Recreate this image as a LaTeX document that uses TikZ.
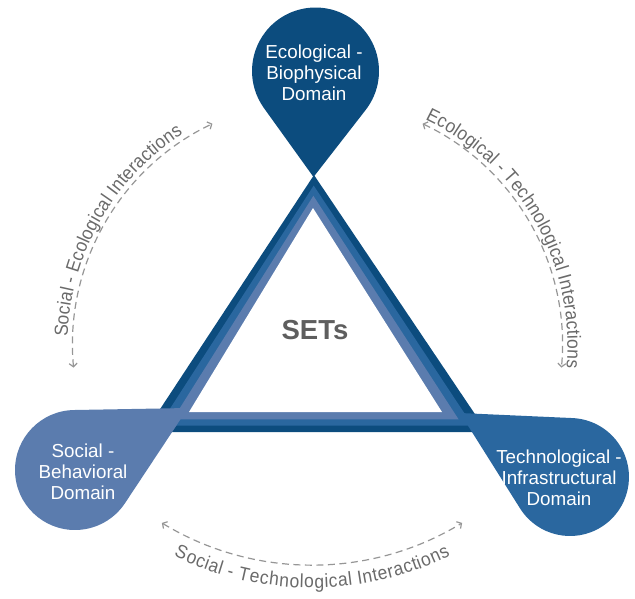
\documentclass[tikz,border=0pt]{standalone}
\usepackage{fontspec}
\setmainfont{Liberation Sans}
\newfontfamily\arcfamily[FakeStretch=0.92]{Liberation Sans}
\usetikzlibrary{calc,arrows.meta,decorations.text}

\definecolor{bandDark}{HTML}{0C4C7E}
\definecolor{bandMid}{HTML}{2A679F}
\definecolor{bandLight}{HTML}{5B7CAE}
\definecolor{arcGrey}{HTML}{969696}
\definecolor{labelGrey}{HTML}{6A6A6A}
\definecolor{hubGrey}{HTML}{5E5E5E}

% Map-pin shape: circle of radius #4 centred at (#2,#3), narrowing to a tip at (#5,#6)
\newcommand\pinshape[6]{%
  \pgfmathsetmacro\pinang{atan2((#6)-(#3),(#5)-(#2))}%
  \pgfmathsetmacro\pinhalf{acos((#4)/veclen((#5)-(#2),(#6)-(#3)))}%
  \pgfmathsetmacro\pinstart{\pinang+\pinhalf}%
  \pgfmathsetmacro\pinsweep{360-2*\pinhalf}%
  \fill[#1] (#5,#6) -- ($(#2,#3)+(\pinstart:#4)$)
    arc[start angle=\pinstart, delta angle=\pinsweep, radius=#4] -- cycle;
}
\newcommand\arclabelfont{\arcfamily\fontsize{19}{21}\selectfont}

\begin{document}
\begin{tikzpicture}[x=1pt,y=1pt,
  domtext/.style={text=white, align=center, inner sep=0pt,
    font=\fontsize{18.8}{21}\selectfont},
  hubtext/.style={text=hubGrey, inner sep=0pt,
    font=\fontsize{27.5}{30}\selectfont\bfseries},
  linkarc/.style={draw=arcGrey, line width=1.2pt, dash pattern=on 7pt off 4.5pt,
    {Straight Barb[length=3.5pt,width=8pt]}-{Straight Barb[length=3.5pt,width=8pt]}},
  arclabel/.style={decorate, decoration={text along path, text align=center,
    text color=labelGrey, raise=#1}},
]
\useasboundingbox (0,0) rectangle (635,-598);

% ---- triangle: three nested bands ----
\coordinate (Oa) at (314,-175);
\coordinate (Ol) at (145,-432);
\coordinate (Or) at (487,-432);
\coordinate (Ia) at (313,-208);
\coordinate (Il) at (189,-412);
\coordinate (Ir) at (442,-412);
\fill[bandDark] (Oa) -- (Ol) -- (Or) -- cycle;
\fill[bandMid] ($(Oa)!0.32!(Ia)$) -- ($(Ol)!0.32!(Il)$) -- ($(Or)!0.32!(Ir)$) -- cycle;
\fill[bandLight] ($(Oa)!0.63!(Ia)$) -- ($(Ol)!0.63!(Il)$) -- ($(Or)!0.63!(Ir)$) -- cycle;
\fill[white] (Ia) -- (Il) -- (Ir) -- cycle;

% ---- domain pins ----
\pinshape{bandDark}{315.5}{-71}{63.5}{313.5}{-177}
\pinshape{bandLight}{75}{-470}{60}{188}{-408}
\pinshape{bandMid}{570}{-477}{59}{460}{-413}

\node[domtext] (eco)  at (314,-73)    {Ecological -\\Biophysical\\Domain};
\node[domtext] (soc)  at (83,-472)    {Social -\\Behavioral\\Domain};
\node[domtext] (tech) at (559,-477.5) {Technological -\\Infrastructural\\Domain};
\node[hubtext] (hub)  at (315,-330)   {SETs};

% ---- interaction arcs ----
\coordinate (ring) at (317.5,-345);
\coordinate (low)  at (312,-276);
\coordinate (se-a) at ($(ring)+(185.3:245)$);
\coordinate (et-a) at ($(ring)+(64.6:245)$);
\coordinate (st-a) at ($(low)+(238.7:289)$);

\draw[linkarc] (se-a) arc[start angle=185.3, end angle=115.4, radius=245];
\draw[linkarc] (et-a) arc[start angle=64.6, end angle=-5.3, radius=245];
\draw[linkarc] (st-a) arc[start angle=238.7, end angle=301.3, radius=289];

\path[arclabel=5pt, decoration={text={|\arclabelfont|Social - Ecological Interactions}}]
  (se-a) arc[start angle=185.3, end angle=115.4, radius=245];
\path[arclabel=5pt, decoration={text={|\arclabelfont|Ecological - Technological Interactions}}]
  (et-a) arc[start angle=64.6, end angle=-5.3, radius=245];
\path[arclabel=-23pt, decoration={text={|\arclabelfont|Social - Technological Interactions}}]
  (st-a) arc[start angle=238.7, end angle=301.3, radius=289];
\end{tikzpicture}
\end{document}
